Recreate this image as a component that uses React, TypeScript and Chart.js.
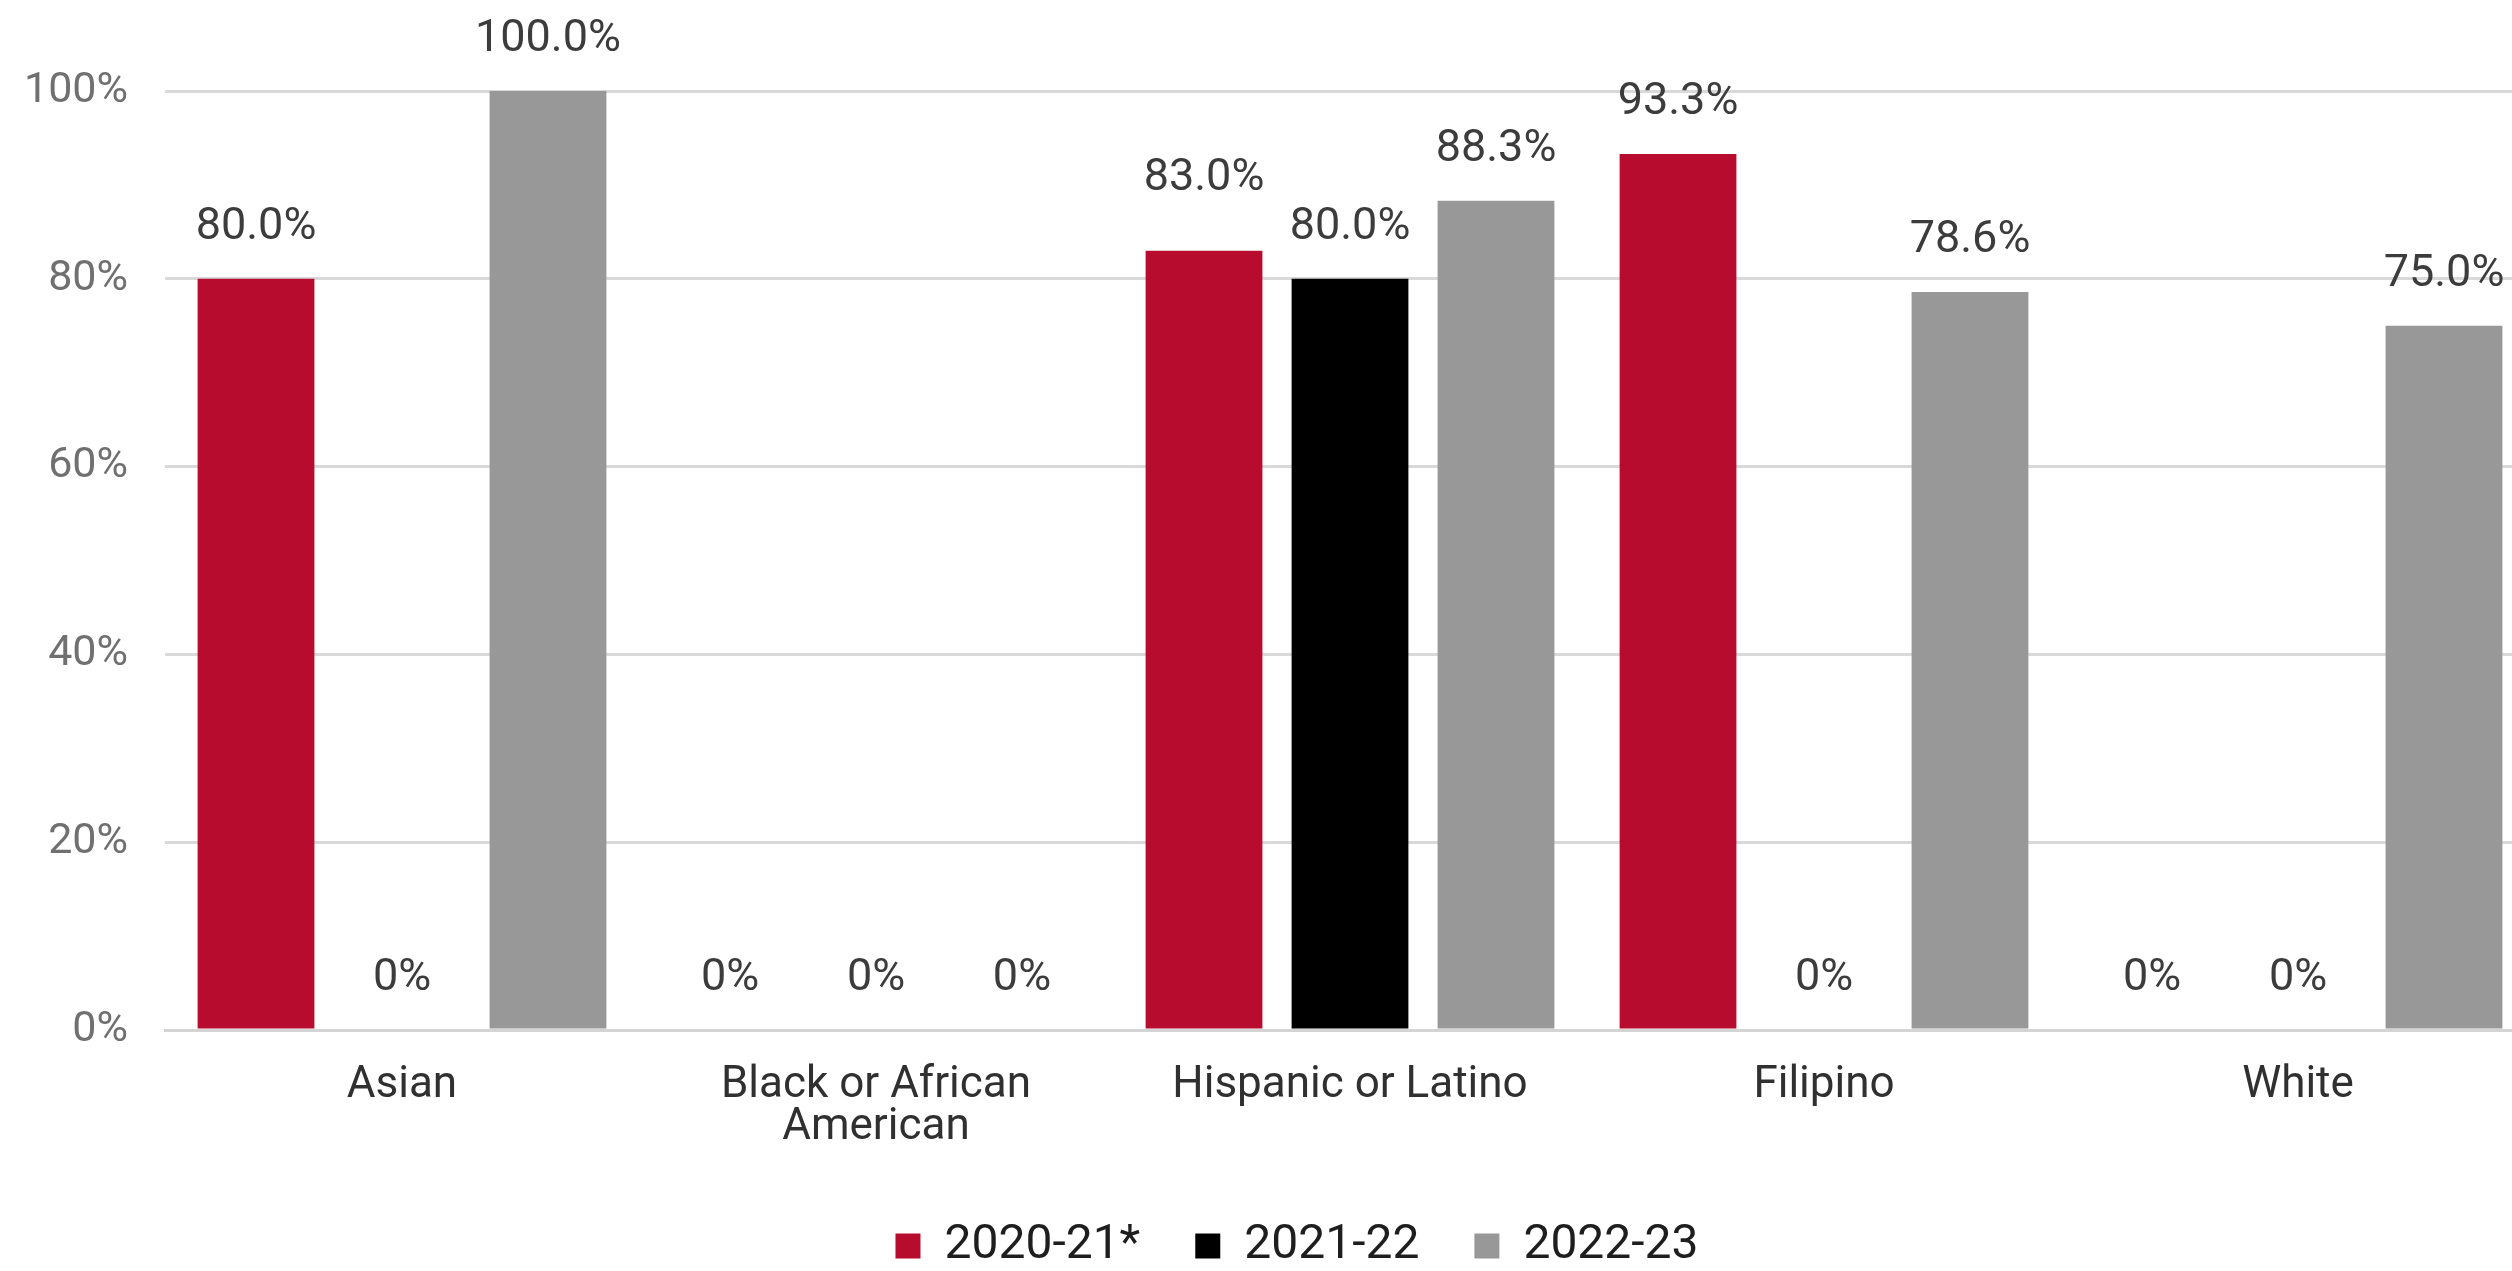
import React, { useEffect, useRef } from "react";
import { Chart, registerables } from "chart.js";

Chart.register(...registerables);

const categories: string[][] = [
  ["Asian"],
  ["Black or African", "American"],
  ["Hispanic or Latino"],
  ["Filipino"],
  ["White"],
];
const seriesNames = ["2020-21*", "2021-22", "2022-23"];
const values2020 = [80.0, 0, 83.0, 93.3, 0];
const values2021 = [0, 0, 80.0, 0, 0];
const values2022 = [100.0, 0, 88.3, 78.6, 75.0];
const yTickValues = [0, 20, 40, 60, 80, 100];

const seriesColors = ["#B80C2E", "#000000", "#989898"];
const FONT = "Roboto";

const valueLabels = {
  id: "valueLabels",
  afterDatasetsDraw(chart: any, _args: any, opts: any) {
    const ctx = chart.ctx;
    ctx.save();
    ctx.font = `${opts.size}px ${FONT}`;
    ctx.fillStyle = opts.color;
    ctx.textAlign = "center";
    ctx.textBaseline = "middle";
    chart.data.datasets.forEach((ds: any, di: number) => {
      const meta = chart.getDatasetMeta(di);
      meta.data.forEach((bar: any, i: number) => {
        const v = ds.data[i] as number;
        const text = v === 0 ? "0%" : v.toFixed(1) + "%";
        const lift = (opts.lift && opts.lift[`${di}-${i}`]) || 0;
        ctx.fillText(text, bar.x, bar.y - opts.offset - lift);
      });
    });
    ctx.restore();
  },
};

// nudges the legend block so it is centred where the reference has it
const legendShift = {
  id: "legendShift",
  afterLayout(chart: any, _args: any, opts: any) {
    if (chart.legend) chart.legend.left += opts.left || 0;
  },
};

export default function App() {
  const ref = useRef<HTMLCanvasElement | null>(null);

  useEffect(() => {
    if (!ref.current) return;
    const seriesValues = [values2020, values2021, values2022];
    const chart = new Chart(ref.current, {
      type: "bar",
      data: {
        labels: categories,
        datasets: seriesNames.map((name, i) => ({
          label: name,
          data: seriesValues[i],
          backgroundColor: seriesColors[i],
          borderWidth: 0,
          categoryPercentage: 0.924,
          barPercentage: 0.8,
        })),
      },
      options: {
        animation: false,
        responsive: true,
        maintainAspectRatio: false,
        layout: { padding: { top: 91, right: 10, bottom: 0, left: 0 } },
        plugins: {
          tooltip: { enabled: false },
          legend: {
            position: "bottom",
            labels: {
              font: { family: FONT, size: 48 },
              color: "#1e1e1e",
              boxWidth: 25,
              boxHeight: 25,
              padding: 55,
            },
          },
          legendShift: { left: 59 },
          valueLabels: {
            size: 45,
            color: "#3c3c3c",
            offset: 51,
            lift: { "0-2": 21 },
          },
        } as any,
        scales: {
          x: {
            grid: { display: false, drawTicks: false },
            border: { display: true, color: "#d4d4d4", width: 3 },
            ticks: {
              font: { family: FONT, size: 44, lineHeight: 0.95 },
              color: "#303030",
              padding: 35,
              maxRotation: 0,
              autoSkip: false,
            },
            afterFit: (scale: any) => {
              scale.height = 137;
            },
          },
          y: {
            min: 0,
            max: 100,
            afterBuildTicks: (scale: any) => {
              scale.ticks = yTickValues.map((v) => ({ value: v }));
            },
            grid: { color: "#d9d9d9", lineWidth: 3, drawTicks: false },
            border: { display: false },
            ticks: {
              font: { family: FONT, size: 43 },
              color: "#707070",
              padding: 37,
              callback: (v: any) => `${v}%`,
            },
            afterFit: (scale: any) => {
              scale.width = 165;
            },
          },
        },
      },
      plugins: [valueLabels, legendShift],
    });
    return () => chart.destroy();
  }, []);

  return (
    <div
      style={{
        position: "fixed",
        left: 0,
        top: 0,
        width: "100vw",
        height: "100vh",
        overflow: "hidden",
        background: "#ffffff",
      }}
    >
      <div style={{ position: "absolute", left: 0, top: 0, width: 2545, height: 1280 }}>
        <canvas ref={ref} />
      </div>
    </div>
  );
}
